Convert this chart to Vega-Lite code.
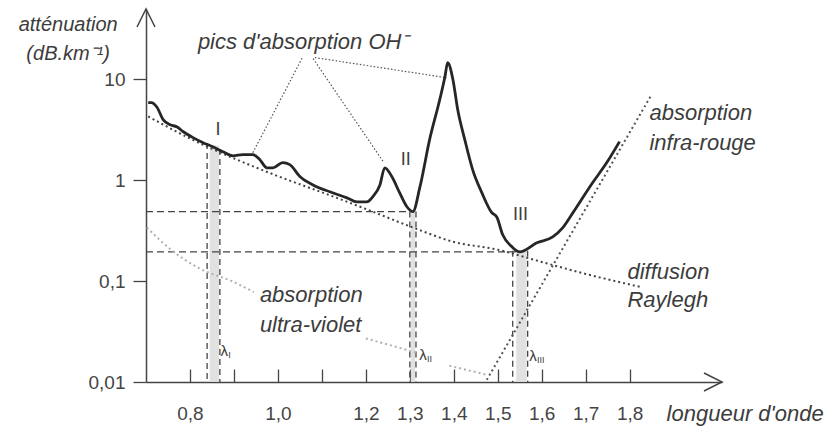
{
  "$schema": "https://vega.github.io/schema/vega-lite/v6.json",
  "width": 576,
  "height": 373,
  "autosize": {"type": "none"},
  "padding": {"left": 146, "top": 9, "right": 117, "bottom": 48},
  "background": "white",
  "config": {
    "view": {"stroke": null},
    "font": "Liberation Sans",
    "text": {"font": "Liberation Sans", "color": "#3c3c3c"}
  },
  "datasets": {
    "curve": [
      {"x": 0.705, "y": 5.9}, {"x": 0.712, "y": 5.9}, {"x": 0.725, "y": 5.3}, {"x": 0.739, "y": 4.0},
      {"x": 0.755, "y": 3.55}, {"x": 0.770, "y": 3.4}, {"x": 0.784, "y": 3.05}, {"x": 0.807, "y": 2.65},
      {"x": 0.830, "y": 2.36}, {"x": 0.852, "y": 2.15}, {"x": 0.875, "y": 1.92}, {"x": 0.898, "y": 1.75},
      {"x": 0.920, "y": 1.8}, {"x": 0.943, "y": 1.8}, {"x": 0.959, "y": 1.6}, {"x": 0.975, "y": 1.33},
      {"x": 0.989, "y": 1.33}, {"x": 1.011, "y": 1.5}, {"x": 1.027, "y": 1.43}, {"x": 1.050, "y": 1.09},
      {"x": 1.080, "y": 0.9}, {"x": 1.118, "y": 0.77}, {"x": 1.157, "y": 0.67}, {"x": 1.180, "y": 0.61},
      {"x": 1.202, "y": 0.61}, {"x": 1.216, "y": 0.69}, {"x": 1.232, "y": 0.9}, {"x": 1.243, "y": 1.33},
      {"x": 1.259, "y": 1.09}, {"x": 1.277, "y": 0.75}, {"x": 1.293, "y": 0.55}, {"x": 1.307, "y": 0.49},
      {"x": 1.323, "y": 0.86}, {"x": 1.345, "y": 2.53}, {"x": 1.368, "y": 6.3}, {"x": 1.380, "y": 10.7},
      {"x": 1.386, "y": 14.7}, {"x": 1.398, "y": 10.0}, {"x": 1.409, "y": 5.0}, {"x": 1.425, "y": 2.53},
      {"x": 1.443, "y": 1.27}, {"x": 1.464, "y": 0.75}, {"x": 1.486, "y": 0.48}, {"x": 1.498, "y": 0.43},
      {"x": 1.511, "y": 0.29}, {"x": 1.532, "y": 0.22}, {"x": 1.550, "y": 0.195}, {"x": 1.589, "y": 0.24},
      {"x": 1.625, "y": 0.275}, {"x": 1.648, "y": 0.34}, {"x": 1.670, "y": 0.47}, {"x": 1.716, "y": 0.95},
      {"x": 1.748, "y": 1.5}, {"x": 1.777, "y": 2.42}
    ],
    "rayleigh": [
      {"x": 0.705, "y": 4.3}, {"x": 0.8, "y": 2.6}, {"x": 0.9, "y": 1.65}, {"x": 1.0, "y": 1.1},
      {"x": 1.1, "y": 0.76}, {"x": 1.2, "y": 0.52}, {"x": 1.3, "y": 0.35}, {"x": 1.4, "y": 0.245},
      {"x": 1.5, "y": 0.205}, {"x": 1.6, "y": 0.155}, {"x": 1.7, "y": 0.118}, {"x": 1.823, "y": 0.088}
    ],
    "infrared": [
      {"x": 1.475, "y": 0.0105}, {"x": 1.85, "y": 7.1}
    ],
    "ultraviolet": [
      {"seg": "a", "x": 0.702, "y": 0.34}, {"seg": "a", "x": 0.76, "y": 0.2}, {"seg": "a", "x": 0.82, "y": 0.135},
      {"seg": "a", "x": 0.9, "y": 0.098}, {"seg": "a", "x": 0.945, "y": 0.078},
      {"seg": "b", "x": 1.2, "y": 0.027}, {"seg": "b", "x": 1.277, "y": 0.0218}, {"seg": "b", "x": 1.315, "y": 0.0195},
      {"seg": "c", "x": 1.39, "y": 0.0145}, {"seg": "c", "x": 1.475, "y": 0.0118}
    ],
    "pointers": [
      {"id": 1, "x": 1.057, "y": 16.9}, {"id": 1, "x": 0.943, "y": 1.88},
      {"id": 2, "x": 1.080, "y": 16.1}, {"id": 2, "x": 1.241, "y": 1.5},
      {"id": 3, "x": 1.084, "y": 16.5}, {"id": 3, "x": 1.384, "y": 10.4}
    ],
    "hlines": [
      {"y": 0.49, "xstart": 0.7, "xend": 1.307},
      {"y": 0.195, "xstart": 0.7, "xend": 1.55}
    ],
    "vlines": [
      {"x": 0.839, "bottom": 0.01, "top": 2.35}, {"x": 0.868, "bottom": 0.01, "top": 2.05},
      {"x": 1.300, "bottom": 0.01, "top": 0.49}, {"x": 1.314, "bottom": 0.01, "top": 0.49},
      {"x": 1.534, "bottom": 0.01, "top": 0.2}, {"x": 1.568, "bottom": 0.01, "top": 0.2}
    ],
    "bands": [
      {"x": 0.845, "x2": 0.866, "bottom": 0.01, "top": 2.2},
      {"x": 1.302, "x2": 1.312, "bottom": 0.01, "top": 0.49},
      {"x": 1.542, "x2": 1.566, "bottom": 0.01, "top": 0.2}
    ],
    "ylabel": [
      {"x": 0.523, "y": 35, "text": "atténuation"},
      {"x": 0.523, "y": 17.7, "text": "(dB.km⁻¹)"}
    ],
    "notes": [
      {"x": 0.818, "y": 23.8, "text": "pics d'absorption OH⁻"},
      {"x": 1.845, "y": 4.69, "text": "absorption"},
      {"x": 1.845, "y": 2.36, "text": "infra-rouge"},
      {"x": 1.795, "y": 0.124, "text": "diffusion"},
      {"x": 1.795, "y": 0.065, "text": "Raylegh"},
      {"x": 0.959, "y": 0.073, "text": "absorption"},
      {"x": 0.959, "y": 0.0368, "text": "ultra-violet"},
      {"x": 1.884, "y": 0.0048, "text": "longueur d'onde"}
    ],
    "windows": [
      {"x": 0.864, "y": 3.18, "text": "I"},
      {"x": 1.291, "y": 1.6, "text": "II"},
      {"x": 1.552, "y": 0.455, "text": "III"}
    ],
    "lambdas": [
      {"x": 0.878, "y": 0.0205, "sub": "I"},
      {"x": 1.33, "y": 0.0185, "sub": "II"},
      {"x": 1.58, "y": 0.018, "sub": "III"}
    ],
    "arrowY": [{"x": 0.7, "y": 50}],
    "arrowX": [{"x": 2.01, "y": 0.01}]
  },
  "layer": [
    {
      "data": {"name": "bands"},
      "mark": {"type": "rect", "fill": "#dcdcdc", "opacity": 0.85},
      "encoding": {
        "x": {"field": "x", "type": "quantitative", "title": null,
          "scale": {"type": "linear", "domain": [0.7, 2.01], "nice": false, "zero": false},
          "axis": {
            "values": [0.8, 0.9, 1.0, 1.1, 1.2, 1.3, 1.4, 1.5, 1.6, 1.7, 1.8],
            "format": ".1f",
            "labelExpr": "(datum.value == 0.9 || datum.value == 1.1) ? '' : replace(datum.label, '.', ',')",
            "tickSize": -13, "tickWidth": 1.3, "tickColor": "#444",
            "domainColor": "#444", "domainWidth": 1.5,
            "labelPadding": 35, "labelFont": "Liberation Sans", "labelFontSize": 19, "labelColor": "#444",
            "labelFlush": false, "labelOverlap": false, "grid": false, "title": null
          }
        },
        "x2": {"field": "x2"},
        "y": {"field": "top", "type": "quantitative", "title": null,
          "scale": {"type": "log", "domain": [0.01, 50], "nice": false},
          "axis": {
            "values": [0.01, 0.1, 1, 10],
            "format": "~g",
            "labelExpr": "replace(datum.label, '.', ',')",
            "tickSize": 13, "tickWidth": 1.3, "tickColor": "#444",
            "domainColor": "#444", "domainWidth": 1.5,
            "labelPadding": 8, "labelFont": "Liberation Sans", "labelFontSize": 19, "labelColor": "#444",
            "labelFlush": false, "labelOverlap": false, "grid": false, "title": null
          }
        },
        "y2": {"field": "bottom"}
      }
    },
    {
      "data": {"name": "vlines"},
      "mark": {"type": "rule", "color": "#444", "strokeWidth": 1.3, "strokeDash": [6, 4]},
      "encoding": {
        "x": {"field": "x", "type": "quantitative", "title": null},
        "y": {"field": "top", "type": "quantitative", "title": null},
        "y2": {"field": "bottom"}
      }
    },
    {
      "data": {"name": "hlines"},
      "mark": {"type": "rule", "color": "#444", "strokeWidth": 1.3, "strokeDash": [7, 4]},
      "encoding": {
        "y": {"field": "y", "type": "quantitative", "title": null},
        "x": {"field": "xstart", "type": "quantitative", "title": null},
        "x2": {"field": "xend"}
      }
    },
    {
      "data": {"name": "ultraviolet"},
      "mark": {"type": "line", "color": "#b0b0b0", "strokeWidth": 2, "strokeDash": [2, 3], "interpolate": "monotone"},
      "encoding": {
        "x": {"field": "x", "type": "quantitative", "title": null},
        "y": {"field": "y", "type": "quantitative", "title": null},
        "detail": {"field": "seg"}
      }
    },
    {
      "data": {"name": "rayleigh"},
      "mark": {"type": "line", "color": "#444", "strokeWidth": 2, "strokeDash": [2, 3], "interpolate": "monotone"},
      "encoding": {
        "x": {"field": "x", "type": "quantitative", "title": null},
        "y": {"field": "y", "type": "quantitative", "title": null}
      }
    },
    {
      "data": {"name": "infrared"},
      "mark": {"type": "line", "color": "#555", "strokeWidth": 2, "strokeDash": [2, 3]},
      "encoding": {
        "x": {"field": "x", "type": "quantitative", "title": null},
        "y": {"field": "y", "type": "quantitative", "title": null}
      }
    },
    {
      "data": {"name": "pointers"},
      "mark": {"type": "line", "color": "#555", "strokeWidth": 1.2, "strokeDash": [1.5, 2]},
      "encoding": {
        "x": {"field": "x", "type": "quantitative", "title": null},
        "y": {"field": "y", "type": "quantitative", "title": null},
        "detail": {"field": "id"}
      }
    },
    {
      "data": {"name": "curve"},
      "mark": {"type": "line", "color": "#262626", "strokeWidth": 2.8, "interpolate": "monotone"},
      "encoding": {
        "x": {"field": "x", "type": "quantitative", "title": null},
        "y": {"field": "y", "type": "quantitative", "title": null}
      }
    },
    {
      "data": {"name": "ylabel"},
      "mark": {"type": "text", "fontStyle": "italic", "fontSize": 20, "align": "center", "baseline": "middle"},
      "encoding": {
        "x": {"field": "x", "type": "quantitative", "title": null},
        "y": {"field": "y", "type": "quantitative", "title": null},
        "text": {"field": "text"}
      }
    },
    {
      "data": {"name": "notes"},
      "mark": {"type": "text", "fontStyle": "italic", "fontSize": 22, "align": "left", "baseline": "middle"},
      "encoding": {
        "x": {"field": "x", "type": "quantitative", "title": null},
        "y": {"field": "y", "type": "quantitative", "title": null},
        "text": {"field": "text"}
      }
    },
    {
      "data": {"name": "windows"},
      "mark": {"type": "text", "fontSize": 18, "align": "center", "baseline": "middle"},
      "encoding": {
        "x": {"field": "x", "type": "quantitative", "title": null},
        "y": {"field": "y", "type": "quantitative", "title": null},
        "text": {"field": "text"}
      }
    },
    {
      "data": {"name": "lambdas"},
      "mark": {"type": "text", "fontSize": 15, "align": "center", "baseline": "middle", "text": "λ"},
      "encoding": {
        "x": {"field": "x", "type": "quantitative", "title": null},
        "y": {"field": "y", "type": "quantitative", "title": null}
      }
    },
    {
      "data": {"name": "lambdas"},
      "mark": {"type": "text", "fontSize": 9, "align": "left", "baseline": "middle", "dx": 4, "dy": 4},
      "encoding": {
        "x": {"field": "x", "type": "quantitative", "title": null},
        "y": {"field": "y", "type": "quantitative", "title": null},
        "text": {"field": "sub"}
      }
    },
    {
      "data": {"name": "arrowY"},
      "mark": {"type": "point", "shape": "M-0.5,1L0,0L0.5,1", "size": 1296, "filled": false, "stroke": "#444", "strokeWidth": 1.5, "opacity": 1},
      "encoding": {
        "x": {"field": "x", "type": "quantitative", "title": null},
        "y": {"field": "y", "type": "quantitative", "title": null}
      }
    },
    {
      "data": {"name": "arrowX"},
      "mark": {"type": "point", "shape": "M-1,-0.5L0,0L-1,0.5", "size": 1296, "filled": false, "stroke": "#444", "strokeWidth": 1.5, "opacity": 1},
      "encoding": {
        "x": {"field": "x", "type": "quantitative", "title": null},
        "y": {"field": "y", "type": "quantitative", "title": null}
      }
    }
  ]
}
